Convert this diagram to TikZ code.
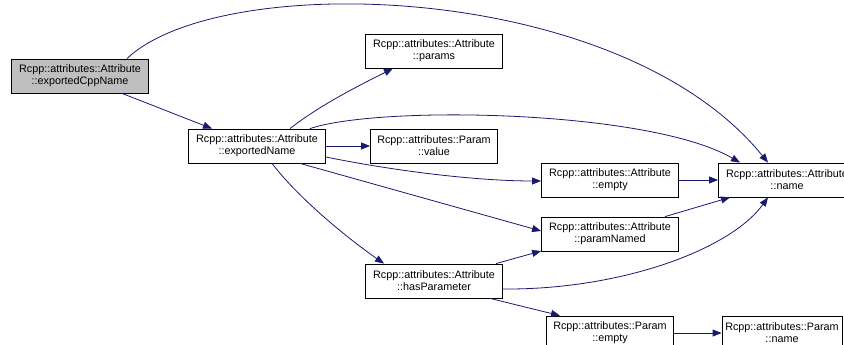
\documentclass[tikz,border=0pt]{standalone}
\usepackage{fontspec}
\setmainfont{Liberation Sans}
\usetikzlibrary{arrows.meta,calc}
\definecolor{edgeblue}{HTML}{191970}
\begin{document}
\begin{tikzpicture}[x=1pt,y=-1pt,
  fn/.style={draw=black, line width=0.8pt, fill=white, minimum height=34pt,
    inner sep=0pt, align=center, font=\fontsize{10.8}{12.2}\selectfont},
  attr/.style={fn, minimum width=137pt},
  prm/.style={fn, minimum width=127pt},
  call/.style={draw=edgeblue, line width=0.8pt,
    -{Triangle[length=9pt,width=7pt]}}]
\useasboundingbox (0,0) rectangle (844,345);
\clip (0,0) rectangle (844,345);

% functions
\node[attr, fill=gray!50] (ecn) at (80,76) {Rcpp::attributes::Attribute\\::exportedCppName};
\node[attr] (en)  at (257,146) {Rcpp::attributes::Attribute\\::exportedName};
\node[attr] (prs) at (434,51)  {Rcpp::attributes::Attribute\\::params};
\node[prm]  (val) at (434,146) {Rcpp::attributes::Param\\::value};
\node[attr] (hp)  at (434,281) {Rcpp::attributes::Attribute\\::hasParameter};
\node[attr] (emp) at (610,180) {Rcpp::attributes::Attribute\\::empty};
\node[attr] (pn)  at (610,234) {Rcpp::attributes::Attribute\\::paramNamed};
\node[prm]  (pemp) at (610,333) {Rcpp::attributes::Param\\::empty};
\node[attr] (nm)  at (787,180) {Rcpp::attributes::Attribute\\::name};
\node[fn, minimum width=120pt] (pnm) at (782,333) {Rcpp::attributes::Param\\::name};

% calls
\draw[call] ($(ecn.north)+(47,0)$) .. controls (220,-30) and (620,-20) .. ($(nm.north)+(-19,0)$);
\draw[call] ($(ecn.south)+(42,0)$) -- ($(en.north)+(-45,0)$);
\draw[call] ($(en.north)+(33,0)$) .. controls (320,105) and (360,85) .. ($(prs.south)+(-41,0)$);
\draw[call] ($(en.north)+(53,0)$) .. controls (380,105) and (650,110) .. ($(nm.north)+(-47,0)$);
\draw[call] (en) -- (val);
\draw[call] ($(en.east)+(0,11)$) .. controls (400,172) and (480,181) .. ($(emp.west)+(0,1)$);
\draw[call] ($(en.south)+(43,0)$) -- ($(pn.west)+(0,-3)$);
\draw[call] ($(en.south)+(15,0)$) .. controls (300,200) and (350,240) .. ($(hp.north)+(-50,0)$);
\draw[call] (emp) -- (nm);
\draw[call] ($(pn.north)+(55,0)$) -- ($(nm.south)+(-57,0)$);
\draw[call] ($(hp.north)+(62,0)$) -- ($(pn.west)+(0,17)$);
\draw[call] ($(hp.east)+(0,8)$) .. controls (620,290) and (730,250) .. ($(nm.south)+(-19,0)$);
\draw[call] ($(hp.south)+(56,0)$) -- ($(pemp.north)+(-50,0)$);
\draw[call] (pemp) -- (pnm);
\end{tikzpicture}
\end{document}
